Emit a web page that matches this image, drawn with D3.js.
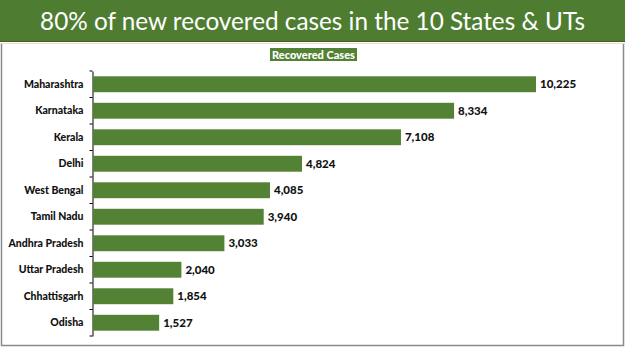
<!DOCTYPE html>
<html>
<head>
<meta charset="utf-8">
<script src="https://cdn.jsdelivr.net/npm/d3@7"></script>
<style>
  body { margin: 0; background: #fff; }
  svg { display: block; }
</style>
</head>
<body>
<div id="chart"></div>
<script>
// data
const states = ["Maharashtra", "Karnataka", "Kerala", "Delhi", "West Bengal",
    "Tamil Nadu", "Andhra Pradesh", "Uttar Pradesh", "Chhattisgarh", "Odisha"];
const recovered = [10225, 8334, 7108, 4824, 4085, 3940, 3033, 2040, 1854, 1527];
const titleText = "80% of new recovered cases in the 10 States & UTs";
const legendText = "Recovered Cases";

const W = 625, H = 351;
const green = "#548235";

const svg = d3.select("#chart").append("svg")
    .attr("width", W)
    .attr("height", H);

// title bar
svg.append("rect")
    .attr("x", 0).attr("y", 0)
    .attr("width", W).attr("height", 42)
    .attr("fill", "#4e7d32");
svg.append("line")
    .attr("x1", 0).attr("x2", W).attr("y1", 41.5).attr("y2", 41.5)
    .attr("stroke", "#3d5f27").attr("stroke-width", 1);
svg.append("line")
    .attr("x1", 0).attr("x2", W).attr("y1", 43.5).attr("y2", 43.5)
    .attr("stroke", "#f3d9c8").attr("stroke-width", 1);

svg.append("text")
    .attr("x", W / 2)
    .attr("y", 30)
    .attr("text-anchor", "middle")
    .style("font-family", "Lato")
    .style("font-size", "24.3px")
    .style("fill", "#fff")
    .text(titleText);

// panel border
svg.append("path")
    .attr("d", `M1.5,44 V345.5 H623.5 V44`)
    .attr("fill", "none")
    .attr("stroke", "#8a8a8a")
    .attr("stroke-width", 1.5);

// legend
const lg = svg.append("g");
lg.append("rect")
    .attr("x", 270).attr("y", 48)
    .attr("width", 87).attr("height", 13)
    .attr("fill", green);
lg.append("text")
    .attr("x", 313.5).attr("y", 58.5)
    .attr("text-anchor", "middle")
    .style("font-family", "Lato")
    .style("font-weight", "900")
    .style("font-size", "11px")
    .style("fill", "#fff")
    .text(legendText);

// scales
const x = d3.scaleLinear()
    .domain([0, 10225])
    .range([93, 536]);

const y = d3.scaleBand()
    .domain(states)
    .range([71, 336])
    .paddingInner(0.4)
    .paddingOuter(0.2);

// y axis
const yAxis = svg.append("g")
    .attr("transform", "translate(92.5,0)")
    .call(d3.axisLeft(y).tickSize(0).tickPadding(9));
yAxis.select(".domain").attr("stroke", "#000").attr("stroke-width", 1);
yAxis.selectAll("text")
    .style("font-family", "Lato")
    .style("font-weight", "900")
    .style("font-size", "10.5px")
    .style("fill", "#111");

// tick marks between categories
const edges = d3.range(states.length + 1).map(i => 71 + i * y.step());
svg.append("g").selectAll("line")
    .data(edges)
    .enter().append("line")
    .attr("x1", 89.5).attr("x2", 92.5)
    .attr("y1", d => d).attr("y2", d => d)
    .attr("stroke", "#000");

// bars
svg.append("g").selectAll("rect")
    .data(states)
    .enter().append("rect")
    .attr("x", x(0))
    .attr("y", d => y(d))
    .attr("width", (d, i) => x(recovered[i]) - x(0))
    .attr("height", y.bandwidth())
    .attr("fill", green);

// value labels
svg.append("g").selectAll("text")
    .data(states)
    .enter().append("text")
    .attr("x", (d, i) => x(recovered[i]) + 4)
    .attr("y", d => y(d) + y.bandwidth() / 2 + 4)
    .style("font-family", "Lato")
    .style("font-weight", "900")
    .style("font-size", "11.5px")
    .style("fill", "#111")
    .text((d, i) => d3.format(",")(recovered[i]));
</script>
</body>
</html>
